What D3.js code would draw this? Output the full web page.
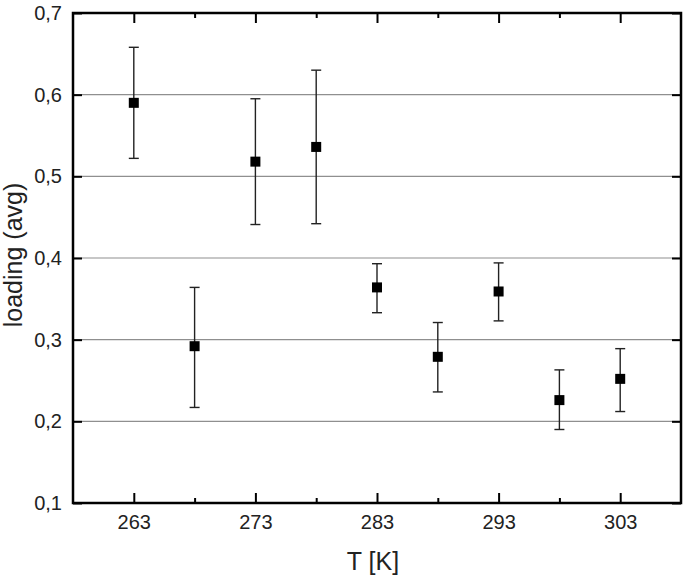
<!DOCTYPE html>
<html>
<head>
<meta charset="utf-8">
<script src="https://cdn.jsdelivr.net/npm/d3@7"></script>
<style>
  body { margin: 0; background: #fff; }
  svg text { font-family: "Liberation Sans", Arial, sans-serif; fill: #222; }
</style>
</head>
<body>
<div id="chart"></div>
<script>
// data
var temps = [263, 268, 273, 278, 283, 288, 293, 298, 303];
var loading = [0.590, 0.292, 0.518, 0.536, 0.364, 0.279, 0.359, 0.226, 0.252];
var errHigh = [0.658, 0.364, 0.595, 0.630, 0.393, 0.321, 0.394, 0.263, 0.289];
var errLow = [0.522, 0.217, 0.441, 0.442, 0.333, 0.236, 0.323, 0.190, 0.212];

var xMajor = [263, 273, 283, 293, 303];
var xMinor = [268, 278, 288, 298];
var yTicks = [0.1, 0.2, 0.3, 0.4, 0.5, 0.6, 0.7];
var gridVals = [0.2, 0.3, 0.4, 0.5, 0.6];

//////////////////////// Set-Up ////////////////////////////
var W = 685, H = 578;
var margin = {left: 73, top: 13, right: 4, bottom: 75},
    width = W - margin.left - margin.right,
    height = H - margin.top - margin.bottom;

var comma = d3.formatLocale({decimal: ",", thousands: ".", grouping: [3], currency: ["", ""]}).format(".1f");

var x = d3.scaleLinear().domain([258, 308]).range([0, width]);
var y = d3.scaleLinear().domain([0.1, 0.7]).range([height, 0]);

var svg = d3.select("#chart").append("svg")
  .attr("width", W)
  .attr("height", H)
  .append("g")
  .attr("transform", "translate(" + margin.left + "," + margin.top + ")");

// grid lines
svg.selectAll("line.grid")
  .data(gridVals)
  .enter().append("line")
  .attr("class", "grid")
  .attr("x1", 0).attr("x2", width)
  .attr("y1", function(d) { return y(d); })
  .attr("y2", function(d) { return y(d); })
  .attr("stroke", "#8f8f8f")
  .attr("stroke-width", 1.2);

// axes - ticks pointing inwards
function styleAxis(g) {
  g.select(".domain").remove();
  g.selectAll(".tick line").attr("stroke", "#000").attr("stroke-width", 2);
  g.selectAll("text").attr("font-size", 20).style("fill", "#222");
}

svg.append("g")
  .attr("transform", "translate(0," + height + ")")
  .call(d3.axisBottom(x).tickValues(xMajor).tickSize(-10).tickPadding(12).tickFormat(d3.format("d")))
  .call(styleAxis);

svg.append("g")
  .attr("transform", "translate(0," + height + ")")
  .call(d3.axisBottom(x).tickValues(xMinor).tickSize(-5).tickFormat(""))
  .call(styleAxis);

svg.append("g")
  .call(d3.axisTop(x).tickValues(xMajor).tickSize(-10).tickFormat(""))
  .call(styleAxis);

svg.append("g")
  .call(d3.axisTop(x).tickValues(xMinor).tickSize(-5).tickFormat(""))
  .call(styleAxis);

svg.append("g")
  .call(d3.axisLeft(y).tickValues(yTicks).tickSize(-9).tickPadding(11).tickFormat(comma))
  .call(styleAxis);

svg.append("g")
  .attr("transform", "translate(" + width + ",0)")
  .call(d3.axisRight(y).tickValues(yTicks).tickSize(-9).tickFormat(""))
  .call(styleAxis);

// frame
svg.append("rect")
  .attr("x", 0).attr("y", 0)
  .attr("width", width).attr("height", height)
  .attr("fill", "none")
  .attr("stroke", "#000")
  .attr("stroke-width", 2.5);

// error bars
var pts = temps.map(function(t, i) {
  return {t: t, v: loading[i], hi: errHigh[i], lo: errLow[i]};
});

var eb = svg.selectAll("g.err")
  .data(pts)
  .enter().append("g")
  .attr("class", "err")
  .attr("stroke", "#222")
  .attr("stroke-width", 1.4);

eb.append("line")
  .attr("x1", function(d) { return x(d.t); })
  .attr("x2", function(d) { return x(d.t); })
  .attr("y1", function(d) { return y(d.hi); })
  .attr("y2", function(d) { return y(d.lo); });

eb.append("line")
  .attr("x1", function(d) { return x(d.t) - 5; })
  .attr("x2", function(d) { return x(d.t) + 5; })
  .attr("y1", function(d) { return y(d.hi); })
  .attr("y2", function(d) { return y(d.hi); });

eb.append("line")
  .attr("x1", function(d) { return x(d.t) - 5; })
  .attr("x2", function(d) { return x(d.t) + 5; })
  .attr("y1", function(d) { return y(d.lo); })
  .attr("y2", function(d) { return y(d.lo); });

// square markers
svg.selectAll("rect.pt")
  .data(pts)
  .enter().append("rect")
  .attr("class", "pt")
  .attr("x", function(d) { return x(d.t) - 5; })
  .attr("y", function(d) { return y(d.v) - 5; })
  .attr("width", 10)
  .attr("height", 10)
  .attr("fill", "#000");

// axis titles
svg.append("text")
  .attr("x", width / 2 - 4)
  .attr("y", height + 67)
  .attr("text-anchor", "middle")
  .attr("font-size", 25)
  .text("T [K]");

svg.append("text")
  .attr("transform", "translate(" + (-51) + "," + (height / 2 - 3) + ") rotate(-90)")
  .attr("text-anchor", "middle")
  .attr("font-size", 25)
  .text("loading (avg)");
</script>
</body>
</html>
